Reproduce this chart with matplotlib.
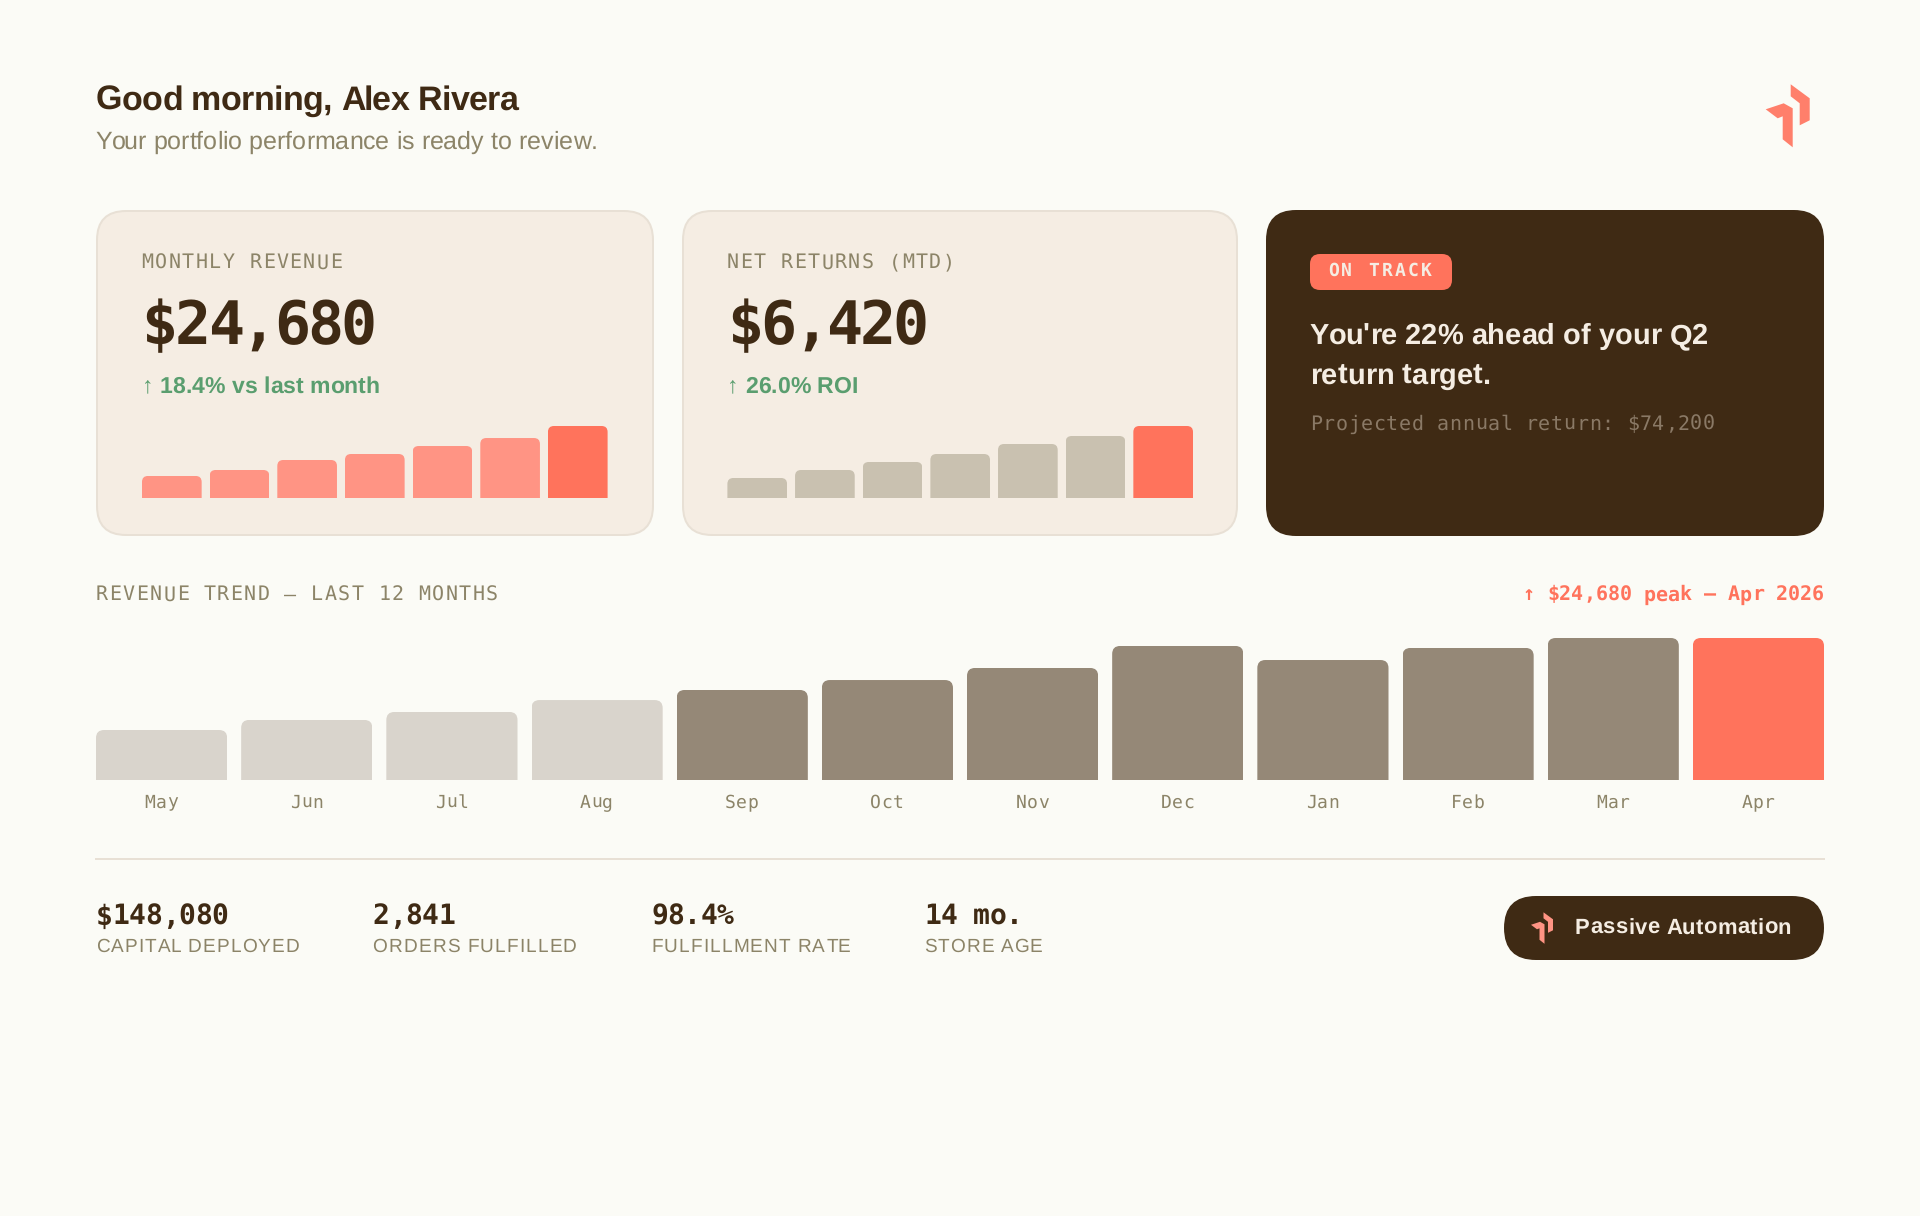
import matplotlib
matplotlib.use("Agg")
import matplotlib.pyplot as plt
from matplotlib.patches import FancyBboxPatch, Polygon
from matplotlib.path import Path
from matplotlib.text import Text
from matplotlib.textpath import text_to_path

W, H = 1920, 1216

BG = "#FBFBF6"
CARD = "#F5EDE3"
BORDER = "#E8E0D5"
BROWN = "#3F2A14"
CREAM = "#F5EDE3"
MUTED = "#8C8468"
DIM = "#8A7966"
GREEN = "#5A9E6F"
CORAL = "#FF735C"
SOFT_CORAL = "#FF9484"
SAND = "#C9C1B0"
LIGHT_BAR = "#D9D4CC"
DARK_BAR = "#958877"

SANS = ["Liberation Sans", "DejaVu Sans"]
MONO = ["DejaVu Sans Mono", "Liberation Mono"]

# bar heights, % of the tallest bar
REVENUE_SPARK = [30.6, 38.9, 52.8, 61.1, 72.2, 83.3, 100]
RETURNS_SPARK = [27.8, 38.9, 50.0, 61.1, 75.0, 86.1, 100]
MONTHS = ["May", "Jun", "Jul", "Aug", "Sep", "Oct", "Nov", "Dec", "Jan", "Feb", "Mar", "Apr"]
TREND = [35.2, 42.3, 47.9, 56.3, 63.4, 70.4, 78.9, 94.4, 84.5, 93.0, 100, 100]
STAT_VALUES = ["$148,080", "2,841", "98.4%", "14 mo."]
STAT_LABELS = ["CAPITAL DEPLOYED", "ORDERS FULFILLED", "FULFILLMENT RATE", "STORE AGE"]

# logo outline in px, origin at its top left corner
LOGO_RIGHT = [(25, 0), (44, 14), (44, 36), (34, 41), (34, 19), (25, 12)]
LOGO_LEFT = [(0, 25), (18, 19), (27, 24), (27, 63), (17, 55), (17, 32), (12, 34)]


class SpacedText(Text):
    """Text with CSS style letter spacing, in px."""

    def __init__(self, x, y, text, spacing=0, **kwargs):
        super().__init__(x, y, text, **kwargs)
        self.spacing = spacing

    def draw(self, renderer):
        full = self.get_text()
        x0 = self.get_position()[0]
        for i, ch in enumerate(full):
            self.set_text(ch)
            self.set_x(x0 + text_width(full[:i], self.get_fontproperties()) + i * self.spacing)
            super().draw(renderer)
        self.set_text(full)
        self.set_x(x0)


def text_width(s, prop):
    if not s:
        return 0
    w, _, _ = text_to_path.get_text_width_height_descent(s, prop, False)
    return w * 100 / 72


def label(ax, x, y, s, size, family=SANS, weight="normal", color=BROWN, spacing=0, ha="left"):
    t = SpacedText(x, y, s, spacing=spacing, fontsize=size * 0.72, family=family,
                   fontweight=weight, color=color, ha="left", va="baseline")
    total = text_width(s, t.get_fontproperties()) + spacing * (len(s) - 1)
    if ha == "right":
        t.set_x(x - total)
    elif ha == "center":
        t.set_x(x - total / 2)
    ax.add_artist(t)
    return t


def box(ax, x0, y0, x1, y1, radius, face, edge="none", lw=0):
    ax.add_patch(FancyBboxPatch((x0, y0), x1 - x0, y1 - y0,
                                boxstyle=f"round,pad=0,rounding_size={radius}",
                                facecolor=face, edgecolor=edge, linewidth=lw * 0.72))


def logo(ax, x, y, scale, color):
    for shape in (LOGO_RIGHT, LOGO_LEFT):
        pts = [(x + px * scale, y + py * scale) for px, py in shape]
        ax.add_patch(Polygon(pts, closed=True, facecolor=color, edgecolor="none"))


def rounded_bars(fig, left, right, top, bottom, values, colors, gap, radius):
    """Bars in their own axes, px box given from the top left of the figure."""
    n = len(values)
    step = (right - left + gap) / n
    ax = fig.add_axes([(left - gap / 2) / W, 1 - bottom / H, (right - left + gap) / W, (bottom - top) / H])
    ax.set_xlim(-0.5, n - 0.5)
    ax.set_ylim(0, 100)
    ax.axis("off")
    ax.patch.set_alpha(0)
    bars = ax.bar(range(n), values, width=1 - gap / step, color=colors, linewidth=0)
    rx = radius / step
    ry = radius * 100 / (bottom - top)
    for rect in bars:
        x0, x1 = rect.get_x(), rect.get_x() + rect.get_width()
        h = rect.get_height()
        verts = [(x0, 0), (x0, h - ry), (x0, h), (x0 + rx, h), (x1 - rx, h), (x1, h), (x1, h - ry), (x1, 0), (x0, 0)]
        codes = [Path.MOVETO, Path.LINETO, Path.CURVE3, Path.CURVE3, Path.LINETO,
                 Path.CURVE3, Path.CURVE3, Path.LINETO, Path.CLOSEPOLY]
        rect.set_clip_path(Path(verts, codes), ax.transData)
    return ax


def main():
    plt.rcParams["text.hinting"] = "no_hinting"
    plt.rcParams["text.hinting_factor"] = 1

    fig = plt.figure(figsize=(W / 100, H / 100), dpi=100, facecolor=BG)
    page = fig.add_axes([0, 0, 1, 1])
    page.set_xlim(0, W)
    page.set_ylim(H, 0)
    page.axis("off")

    # header
    label(page, 96, 110, "Good morning, Alex Rivera", 34, weight="bold", spacing=-0.6)
    label(page, 95.5, 149, "Your portfolio performance is ready to review.", 25, color=MUTED)
    logo(page, 1765.7, 84.3, 1.0, "#FF7F6B")

    # metric cards
    cards = [
        (96, 654, 142, "MONTHLY REVENUE", "$24,680", "↑ 18.4% vs last month", REVENUE_SPARK, SOFT_CORAL),
        (682, 1238, 727.4, "NET RETURNS (MTD)", "$6,420", "↑ 26.0% ROI", RETURNS_SPARK, SAND),
    ]
    for x, x_end, pad_x, title, value, delta, spark, tint in cards:
        box(page, x + 1, 211, x_end - 1, 535, 29, CARD, BORDER, 2)
        label(page, pad_x - 0.5, 268.5, title, 20, MONO, color=MUTED, spacing=1.42)
        label(page, pad_x - 0.5, 344, value, 60, MONO, weight="bold", spacing=-3)
        label(page, pad_x, 393, delta, 23, weight="bold", color=GREEN)
        rounded_bars(fig, pad_x, pad_x + 465.6, 426, 498, spark, [tint] * 6 + [CORAL], 8, 6)

    # status card
    box(page, 1266, 210, 1824, 536, 30, BROWN)
    box(page, 1310, 254, 1452, 290, 10, CORAL)
    label(page, 1328, 276, "ON TRACK", 18, MONO, weight="bold", color=CREAM, spacing=2.5)
    label(page, 1310, 344, "You're 22% ahead of your Q2", 29, weight="bold", color=CREAM)
    label(page, 1310, 384, "return target.", 29, weight="bold", color=CREAM)
    label(page, 1310, 430, "Projected annual return: $74,200", 20, MONO, color=DIM, spacing=0.63)

    # revenue trend
    label(page, 96, 600.5, "REVENUE TREND — LAST 12 MONTHS", 20, MONO, color=MUTED, spacing=1.4)
    label(page, 1824, 600.5, "↑ $24,680 peak — Apr 2026", 20, MONO, weight="bold", color=CORAL, ha="right")
    trend_colors = [LIGHT_BAR] * 4 + [DARK_BAR] * 7 + [CORAL]
    rounded_bars(fig, 96, 1824, 638, 780, TREND, trend_colors, 14, 8)
    step = (1824 - 96 + 14) / len(MONTHS)
    for i, month in enumerate(MONTHS):
        label(page, 96 - 7.5 + step * (i + 0.5), 807.5, month, 18, MONO, color=MUTED, spacing=0.4, ha="center")

    # footer
    page.plot([96, 1824], [858.5, 858.5], color=BORDER, linewidth=2 * 0.72)
    stat_x = [96, 372.5, 651, 924]
    for x, value, name in zip(stat_x, STAT_VALUES, STAT_LABELS):
        label(page, x, 924.5, value, 28, MONO, weight="bold", spacing=-0.4)
        label(page, x, 952, name, 19, color=MUTED, spacing=1.15)

    box(page, 1504, 896, 1824, 960, 32, BROWN)
    logo(page, 1531, 912.3, 0.5, SOFT_CORAL)
    label(page, 1575, 934, "Passive Automation", 22, weight="bold", color=CREAM, spacing=0.4)

    fig.savefig("out.png", dpi=100, facecolor=BG)
    plt.close(fig)


if __name__ == "__main__":
    main()
